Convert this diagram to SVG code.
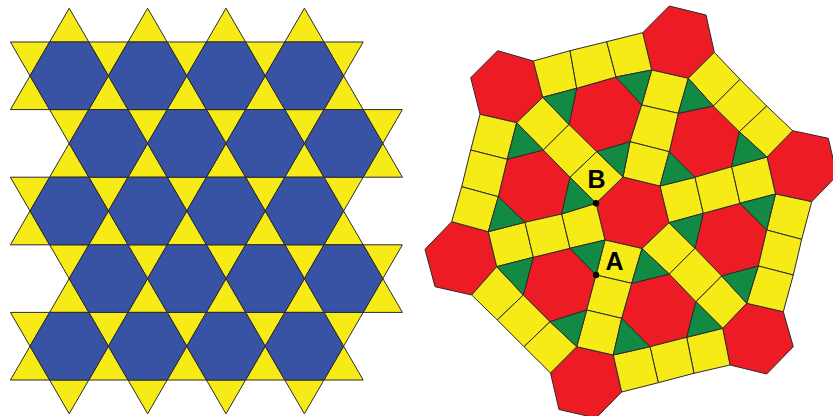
<svg xmlns="http://www.w3.org/2000/svg" xmlns:xlink="http://www.w3.org/1999/xlink" width="833" height="416" viewBox="0 0 833 416">
<style>
polygon{stroke:#2b2b2b;stroke-width:1;stroke-linejoin:round}
.b{fill:#3953A4}
.y{fill:#F6EB16}
.r{fill:#ED1C24}
.g{fill:#138A43}
.lbl{font-family:"Liberation Sans",Arial,sans-serif;font-size:25px;font-weight:bold;fill:#000;text-anchor:middle}
</style>
<defs>
<polygon id="hx" class="b" points="-39.2,0 -19.6,-33.8 19.6,-33.8 39.2,0 19.6,33.8 -19.6,33.8"/>
<polygon id="tu" class="y" points="0,0 -19.6,33.8 19.6,33.8"/>
<polygon id="td" class="y" points="0,0 -19.6,-33.8 19.6,-33.8"/>
</defs>
<rect width="833" height="416" fill="#fff"/>
<g id="kagome">
<!-- top triangles -->
<use href="#tu" x="69.2" y="8.2"/><use href="#tu" x="147.6" y="8.2"/><use href="#tu" x="226" y="8.2"/><use href="#tu" x="304.4" y="8.2"/>
<!-- odd bands -->
<use href="#td" x="30" y="75.8"/><use href="#tu" x="30" y="75.8"/>
<use href="#td" x="108.4" y="75.8"/><use href="#tu" x="108.4" y="75.8"/>
<use href="#td" x="186.8" y="75.8"/><use href="#tu" x="186.8" y="75.8"/>
<use href="#td" x="265.2" y="75.8"/><use href="#tu" x="265.2" y="75.8"/>
<use href="#td" x="343.6" y="75.8"/><use href="#tu" x="343.6" y="75.8"/>
<use href="#td" x="30" y="211"/><use href="#tu" x="30" y="211"/>
<use href="#td" x="108.4" y="211"/><use href="#tu" x="108.4" y="211"/>
<use href="#td" x="186.8" y="211"/><use href="#tu" x="186.8" y="211"/>
<use href="#td" x="265.2" y="211"/><use href="#tu" x="265.2" y="211"/>
<use href="#td" x="343.6" y="211"/><use href="#tu" x="343.6" y="211"/>
<use href="#td" x="30" y="346.2"/><use href="#tu" x="30" y="346.2"/>
<use href="#td" x="108.4" y="346.2"/><use href="#tu" x="108.4" y="346.2"/>
<use href="#td" x="186.8" y="346.2"/><use href="#tu" x="186.8" y="346.2"/>
<use href="#td" x="265.2" y="346.2"/><use href="#tu" x="265.2" y="346.2"/>
<use href="#td" x="343.6" y="346.2"/><use href="#tu" x="343.6" y="346.2"/>
<!-- even bands -->
<use href="#td" x="69.2" y="143.4"/><use href="#tu" x="69.2" y="143.4"/>
<use href="#td" x="147.6" y="143.4"/><use href="#tu" x="147.6" y="143.4"/>
<use href="#td" x="226" y="143.4"/><use href="#tu" x="226" y="143.4"/>
<use href="#td" x="304.4" y="143.4"/><use href="#tu" x="304.4" y="143.4"/>
<use href="#td" x="382.8" y="143.4"/><use href="#tu" x="382.8" y="143.4"/>
<use href="#td" x="69.2" y="278.6"/><use href="#tu" x="69.2" y="278.6"/>
<use href="#td" x="147.6" y="278.6"/><use href="#tu" x="147.6" y="278.6"/>
<use href="#td" x="226" y="278.6"/><use href="#tu" x="226" y="278.6"/>
<use href="#td" x="304.4" y="278.6"/><use href="#tu" x="304.4" y="278.6"/>
<use href="#td" x="382.8" y="278.6"/><use href="#tu" x="382.8" y="278.6"/>
<!-- bottom triangles -->
<use href="#td" x="69.2" y="413.8"/><use href="#td" x="147.6" y="413.8"/><use href="#td" x="226" y="413.8"/><use href="#td" x="304.4" y="413.8"/>
<!-- hexagons -->
<use href="#hx" x="69.2" y="75.8"/><use href="#hx" x="147.6" y="75.8"/><use href="#hx" x="226" y="75.8"/><use href="#hx" x="304.4" y="75.8"/>
<use href="#hx" x="108.4" y="143.4"/><use href="#hx" x="186.8" y="143.4"/><use href="#hx" x="265.2" y="143.4"/><use href="#hx" x="343.6" y="143.4"/>
<use href="#hx" x="69.2" y="211"/><use href="#hx" x="147.6" y="211"/><use href="#hx" x="226" y="211"/><use href="#hx" x="304.4" y="211"/>
<use href="#hx" x="108.4" y="278.6"/><use href="#hx" x="186.8" y="278.6"/><use href="#hx" x="265.2" y="278.6"/><use href="#hx" x="343.6" y="278.6"/>
<use href="#hx" x="69.2" y="346.2"/><use href="#hx" x="147.6" y="346.2"/><use href="#hx" x="226" y="346.2"/><use href="#hx" x="304.4" y="346.2"/>
</g>
<g id="tiling">
<g id="outer-hexagons">
<polygon class="r" points="497.7,50.7 533.3,61 542.7,97.3 516.7,122.7 480,114.3 470.7,77.7"/>
<polygon class="r" points="669.3,6 706,15 714.3,52.3 688.3,78.3 651.7,70 642.7,32.7"/>
<polygon class="r" points="792.7,130.7 828.3,138.3 837,175.5 811.7,201.7 775.5,194 767,157"/>
<polygon class="r" points="746.7,303.3 783.3,311.7 793.3,346.7 766.7,374 730,365 722.7,328.3"/>
<polygon class="r" points="576.7,346.7 613.3,355 621.7,392 596,418 559,409.5 550.5,373"/>
<polygon class="r" points="451.7,221.7 488.3,231.7 496.7,266.7 471.7,295 435,286.7 425,249.3"/>
</g>
<g id="inner-hexagons">
<polygon class="r" points="596,203.3 623,177 660,186 669,222.7 642,248.5 605,240"/>
<polygon class="r" points="576.7,88.3 616,77 641.7,105 630,141.7 596.7,151.7 569,124.5"/>
<polygon class="r" points="507.3,159.3 543.3,150 570,177.3 561.7,214 525,222.3 498.3,196.7"/>
<polygon class="r" points="678.3,113.3 713.3,106 739.3,131.7 731.7,166.7 695,177.3 669.3,151.7"/>
<polygon class="r" points="703.3,213.3 740,203.3 766.7,230 758.3,266 721.7,276 695,248.3"/>
<polygon class="r" points="631.7,283.3 669.3,274 696,301.7 686.7,337.3 650,346.7 621.7,318.3"/>
<polygon class="r" points="533.3,257.3 570,248.3 596,275 586.7,310 550,321.7 523.3,295"/>
</g>
<g id="squares">
<polygon class="y" points="533.3,61 570,50.7 576.7,88.3 542.7,97.3"/>
<polygon class="y" points="570,50.7 606.7,41.7 616,77 576.7,88.3"/>
<polygon class="y" points="606.7,41.7 642.7,32.7 651.7,70 616,77"/>
<polygon class="y" points="651.7,70 688.3,78.3 678.3,113.3 641.7,105"/>
<polygon class="y" points="641.7,105 678.3,113.3 669.3,151.7 630,141.7"/>
<polygon class="y" points="630,141.7 669.3,151.7 660,186 623,177"/>
<polygon class="y" points="516.7,122.7 542.7,97.3 569,124.5 543.3,150"/>
<polygon class="y" points="543.3,150 569,124.5 596.7,151.7 570,177.3"/>
<polygon class="y" points="570,177.3 596.7,151.7 623,177 596,203.3"/>
<polygon class="y" points="488.3,231.7 525,222.3 533.3,257.3 496.7,266.7"/>
<polygon class="y" points="525,222.3 561.7,214 570,248.3 533.3,257.3"/>
<polygon class="y" points="561.7,214 596,203.3 605,240 570,248.3"/>
<polygon class="y" points="480,114.3 516.7,122.7 507.3,159.3 470.7,150"/>
<polygon class="y" points="470.7,150 507.3,159.3 498.3,196.7 461.7,186.7"/>
<polygon class="y" points="461.7,186.7 498.3,196.7 488.3,231.7 451.7,221.7"/>
<polygon class="y" points="714.3,52.3 740,79.3 713.3,106 688.3,78.3"/>
<polygon class="y" points="740,79.3 766.7,106 739.3,131.7 713.3,106"/>
<polygon class="y" points="766.7,106 792.7,130.7 767,157 739.3,131.7"/>
<polygon class="y" points="660,186 695,177.3 703.3,213.3 669,222.7"/>
<polygon class="y" points="695,177.3 731.7,166.7 740,203.3 703.3,213.3"/>
<polygon class="y" points="731.7,166.7 767,157 775.5,194 740,203.3"/>
<polygon class="y" points="775.5,194 811.7,201.7 801.7,239.3 766.7,230"/>
<polygon class="y" points="766.7,230 801.7,239.3 793.3,275 758.3,266"/>
<polygon class="y" points="758.3,266 793.3,275 783.3,311.7 746.7,303.3"/>
<polygon class="y" points="642,248.5 669,222.7 695,248.3 669.3,274"/>
<polygon class="y" points="669.3,274 695,248.3 721.7,276 696,301.7"/>
<polygon class="y" points="696,301.7 721.7,276 746.7,303.3 722.7,328.3"/>
<polygon class="y" points="722.7,328.3 730,365 694,373.3 686.7,337.3"/>
<polygon class="y" points="686.7,337.3 694,373.3 658.3,382.7 650,346.7"/>
<polygon class="y" points="650,346.7 658.3,382.7 621.7,392 613.3,355"/>
<polygon class="y" points="605,240 642,248.5 631.7,283.3 596,275"/>
<polygon class="y" points="596,275 631.7,283.3 621.7,318.3 586.7,310"/>
<polygon class="y" points="586.7,310 621.7,318.3 613.3,355 576.7,346.7"/>
<polygon class="y" points="471.7,295 496.7,266.7 523.3,295 497.3,320"/>
<polygon class="y" points="497.3,320 523.3,295 550,321.7 524,346.7"/>
<polygon class="y" points="524,346.7 550,321.7 576.7,346.7 550.5,373"/>
</g>
<g id="triangles">
<polygon class="g" points="542.7,97.3 576.7,88.3 569,124.5"/>
<polygon class="g" points="616,77 651.7,70 641.7,105"/>
<polygon class="g" points="630,141.7 623,177 596.7,151.7"/>
<polygon class="g" points="516.7,122.7 507.3,159.3 543.3,150"/>
<polygon class="g" points="488.3,231.7 498.3,196.7 525,222.3"/>
<polygon class="g" points="561.7,214 596,203.3 570,177.3"/>
<polygon class="g" points="688.3,78.3 678.3,113.3 713.3,106"/>
<polygon class="g" points="739.3,131.7 767,157 731.7,166.7"/>
<polygon class="g" points="660,186 669.3,151.7 695,177.3"/>
<polygon class="g" points="669,222.7 703.3,213.3 695,248.3"/>
<polygon class="g" points="775.5,194 740,203.3 766.7,230"/>
<polygon class="g" points="746.7,303.3 758.3,266 721.7,276"/>
<polygon class="g" points="642,248.5 669.3,274 631.7,283.3"/>
<polygon class="g" points="722.7,328.3 696,301.7 686.7,337.3"/>
<polygon class="g" points="613.3,355 621.7,318.3 650,346.7"/>
<polygon class="g" points="605,240 570,248.3 596,275"/>
<polygon class="g" points="496.7,266.7 533.3,257.3 523.3,295"/>
<polygon class="g" points="576.7,346.7 550,321.7 586.7,310"/>
</g>
<g id="labels">
<circle cx="596" cy="203.3" r="3.2" fill="#000"/>
<circle cx="596" cy="275" r="3.2" fill="#000"/>
<text class="lbl" x="596.5" y="188">B</text>
<text class="lbl" x="614.5" y="270">A</text>
</g>
</g>
</svg>
